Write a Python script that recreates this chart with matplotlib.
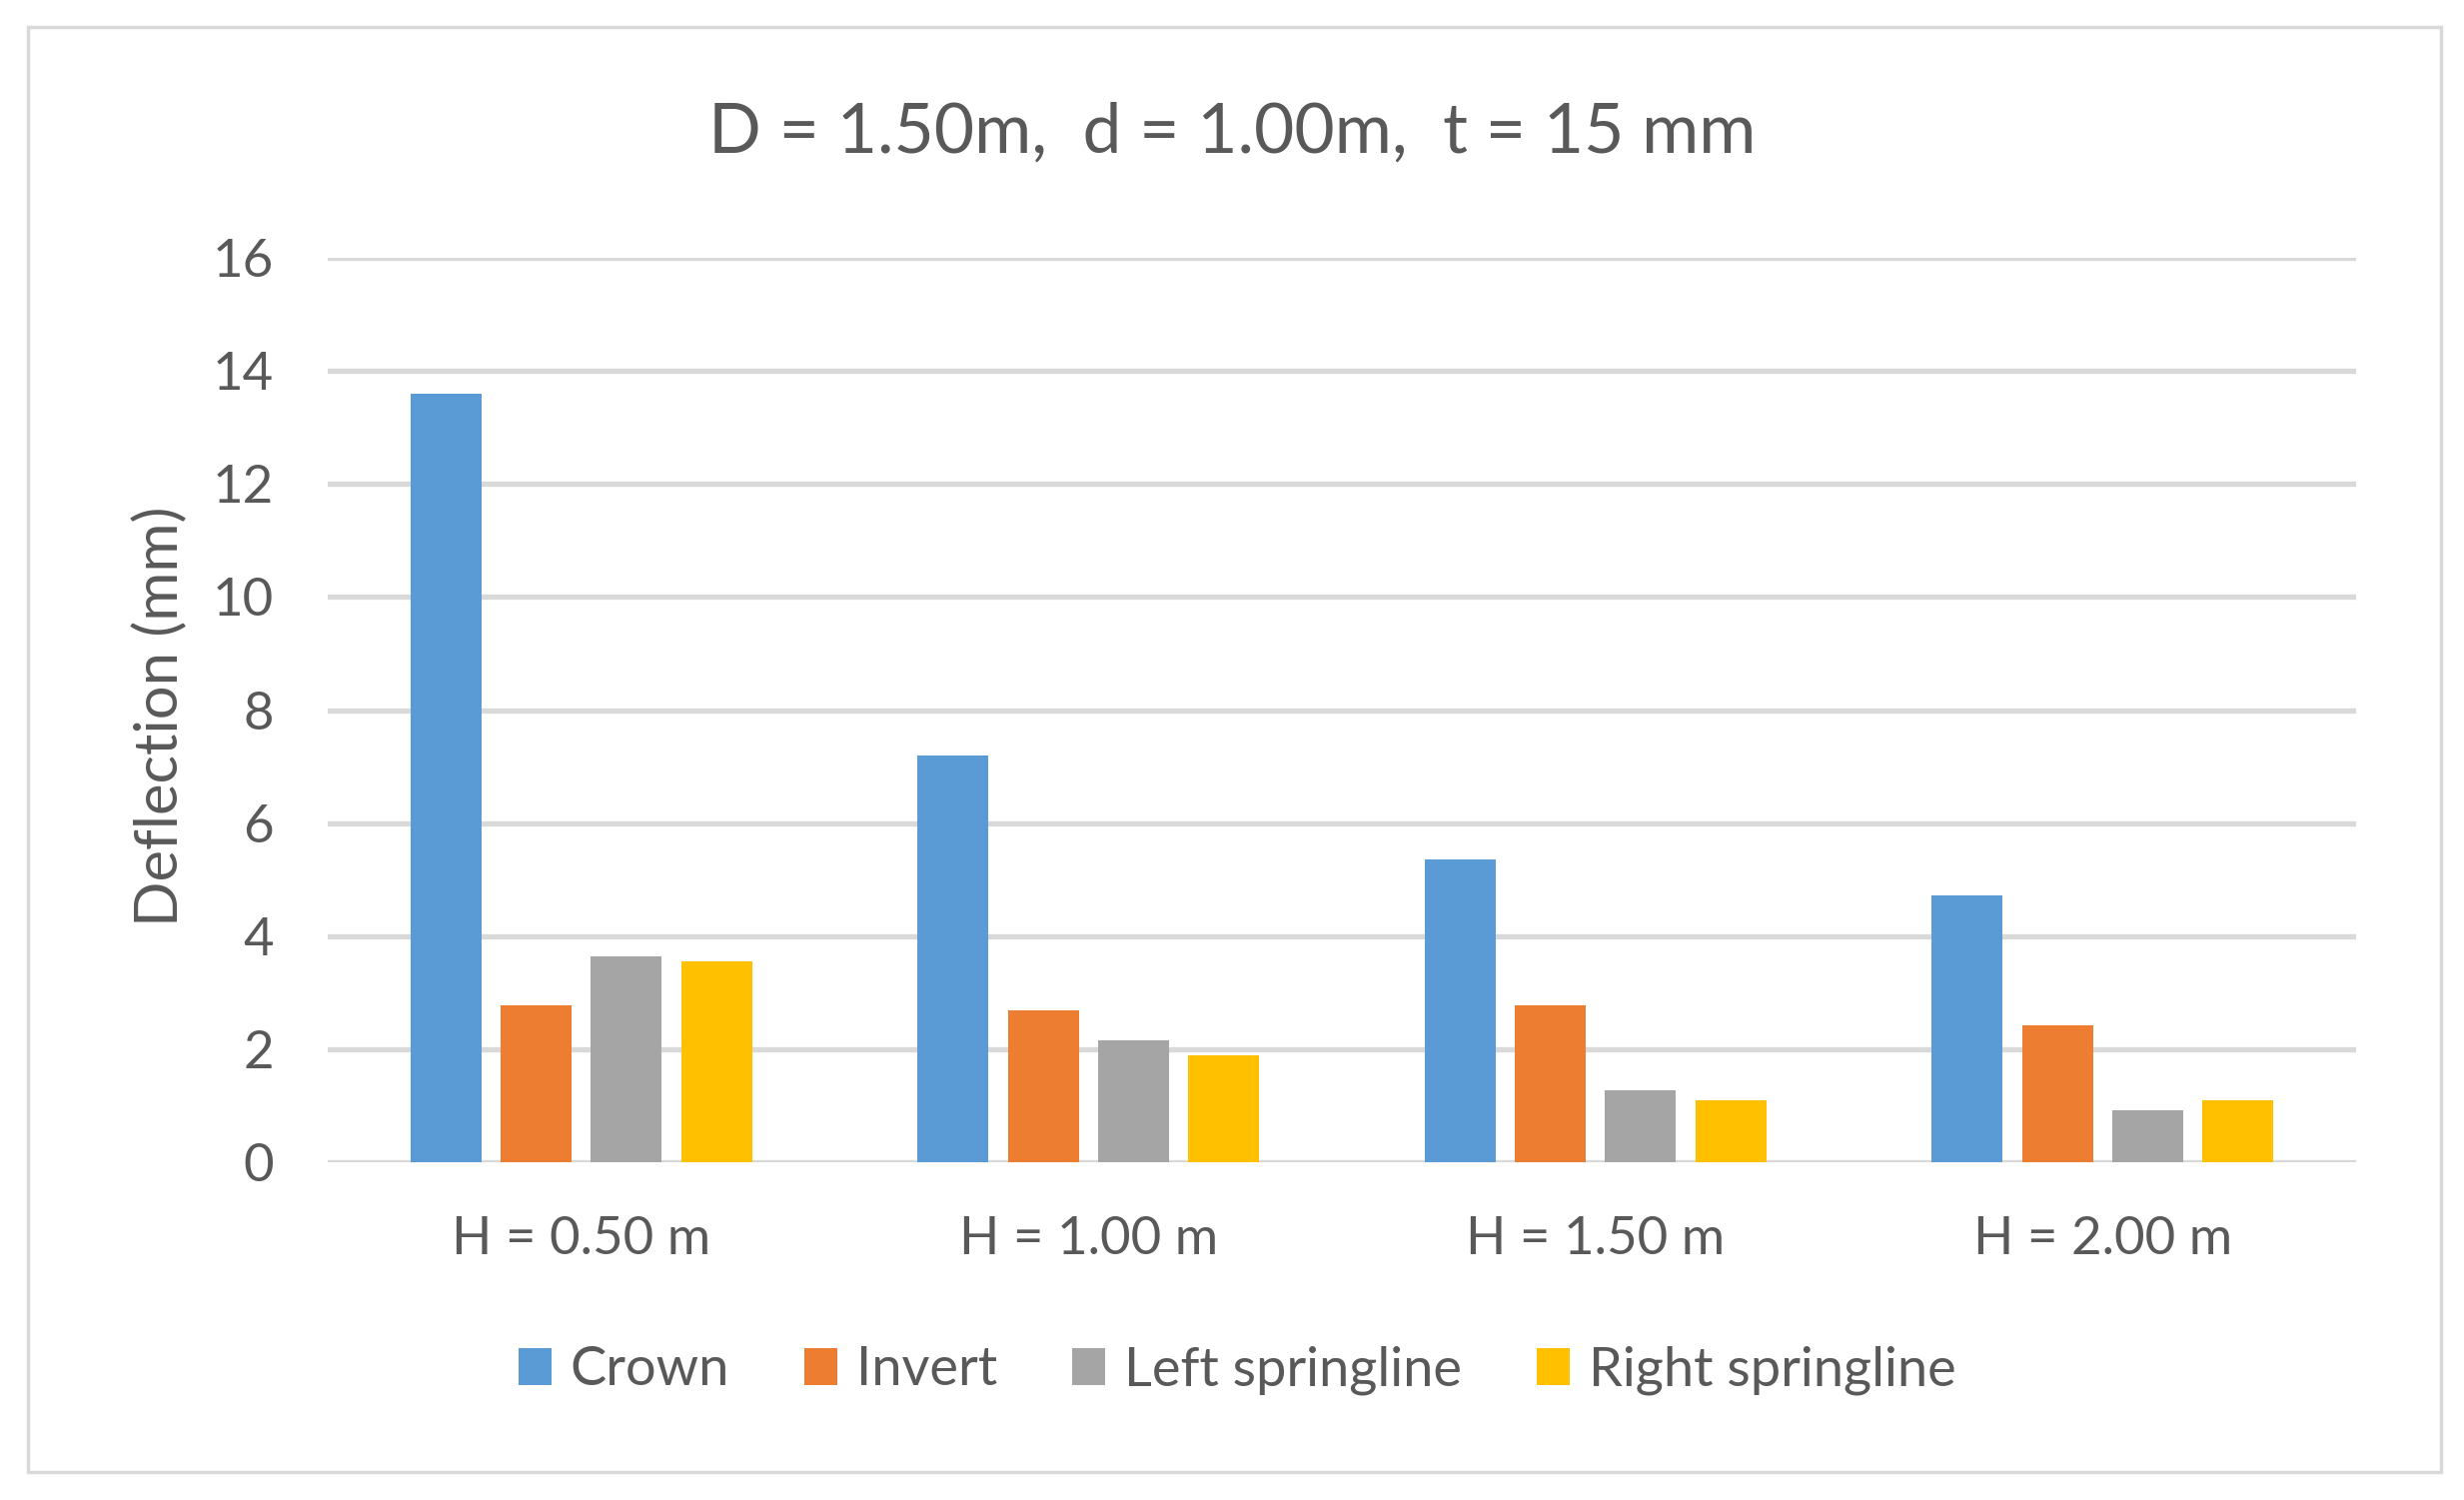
import numpy as np
import matplotlib
matplotlib.use('Agg')
import matplotlib.pyplot as plt
from matplotlib.patches import Rectangle

# values
categories = ['H = 0.50 m', 'H = 1.00 m', 'H = 1.50 m', 'H = 2.00 m']
series_names = ['Crown', 'Invert', 'Left springline', 'Right springline']
crown = [13.6, 7.2, 5.35, 4.72]
invert = [2.77, 2.68, 2.77, 2.42]
left_spring = [3.65, 2.15, 1.27, 0.92]
right_spring = [3.56, 1.89, 1.09, 1.09]
colors = ['#5B9BD5', '#ED7D31', '#A5A5A5', '#FFC000']

txt = '#595959'
grid = '#D9D9D9'
W, H = 2466, 1501

plt.rcParams['font.family'] = ['Lato', 'DejaVu Sans']

fig = plt.figure(figsize=(W / 100, H / 100), dpi=100)
ax = fig.add_axes([328 / W, 1 - 1163 / H, (2358 - 328) / W, (1163 - 258) / H])

x = np.arange(len(categories))
bw = 0.14
step = 0.178
all_vals = [crown, invert, left_spring, right_spring]
for i, (name, vals) in enumerate(zip(series_names, all_vals)):
    ax.bar(x + (i - 1.5) * step, vals, width=bw, color=colors[i], label=name, zorder=3)

ax.set_xlim(-0.5, 3.5)
ax.set_ylim(0, 16)
ax.set_yticks(np.arange(0, 17, 2))
ax.set_xticks(x)
ax.set_xticklabels(categories)
ax.yaxis.grid(True, color=grid, linewidth=3.8, zorder=0)
ax.set_axisbelow(True)
for s in ax.spines.values():
    s.set_visible(False)
ax.tick_params(axis='both', length=0, labelsize=38, colors=txt)
ax.tick_params(axis='y', pad=39)
ax.tick_params(axis='x', pad=39)

fig.text(0.5, 1 - 153 / H, 'D = 1.50m,  d = 1.00m,  t = 15 mm', ha='center', va='baseline',
         fontsize=50, color=txt)
fig.text(160 / W, 1 - 717 / H, 'Deflection (mm)', rotation=90, ha='center', va='center',
         fontsize=43, color=txt)

fig.legend(loc='center', bbox_to_anchor=(1238 / W, 1 - 1371 / H), ncol=4, frameon=False,
           fontsize=39, labelcolor=txt, handlelength=0.62, handleheight=0.68,
           handletextpad=0.34, columnspacing=1.38, borderpad=0)

fig.patches.append(Rectangle((28 / W, 28 / H), (2443 - 28) / W, (1474 - 28) / H,
                             transform=fig.transFigure, fill=False, edgecolor=grid, linewidth=2.5))

fig.savefig('out.png', dpi=100, facecolor='white')
